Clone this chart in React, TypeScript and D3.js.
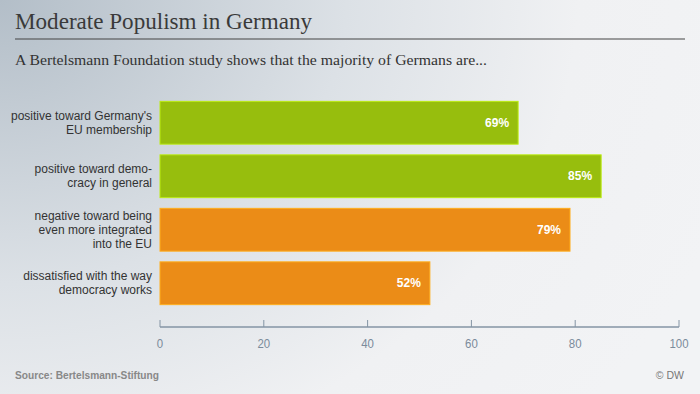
import { useEffect, useRef } from 'react'
import * as d3 from 'd3'

const categories = [
  ["positive toward Germany's", 'EU membership'],
  ['positive toward demo-', 'cracy in general'],
  ['negative toward being', 'even more integrated', 'into the EU'],
  ['dissatisfied with the way', 'democracy works'],
]
const values = [69, 85, 79, 52]
const barColors = ['#97be0d', '#97be0d', '#eb8c17', '#eb8c17']
const xTicks = [0, 20, 40, 60, 80, 100]

const W = 700
const H = 394

export default function App() {
  const svgRef = useRef<SVGSVGElement>(null)

  useEffect(() => {
    if (!svgRef.current) return
    const svg = d3.select(svgRef.current)
    svg.selectAll('*').remove()

    // background gradient
    const defs = svg.append('defs')
    const grad = defs.append('radialGradient')
      .attr('id', 'bg')
      .attr('cx', '0')
      .attr('cy', '0')
      .attr('r', '1')
      .attr('gradientUnits', 'objectBoundingBox')
      .attr('gradientTransform', 'scale(1.1,1.6)')
    grad.append('stop').attr('offset', '0%').attr('stop-color', '#b3bec8')
    grad.append('stop').attr('offset', '45%').attr('stop-color', '#dce1e6')
    grad.append('stop').attr('offset', '75%').attr('stop-color', '#f0f1f3')
    grad.append('stop').attr('offset', '100%').attr('stop-color', '#f2f3f5')

    svg.append('rect').attr('width', W).attr('height', H).attr('fill', 'url(#bg)')

    // header
    svg.append('text')
      .attr('x', 15)
      .attr('y', 29)
      .attr('textLength', 297)
      .attr('lengthAdjust', 'spacingAndGlyphs')
      .style('font-family', '"Liberation Serif", "Times New Roman", serif')
      .style('font-size', '23px')
      .style('fill', '#3a3a3a')
      .text('Moderate Populism in Germany')

    svg.append('line')
      .attr('x1', 15).attr('x2', 685)
      .attr('y1', 39).attr('y2', 39)
      .style('stroke', '#444')
      .style('stroke-width', 1.2)

    svg.append('text')
      .attr('x', 15)
      .attr('y', 65)
      .attr('textLength', 472)
      .attr('lengthAdjust', 'spacingAndGlyphs')
      .style('font-family', '"Liberation Serif", "Times New Roman", serif')
      .style('font-size', '15px')
      .style('fill', '#333')
      .text('A Bertelsmann Foundation study shows that the majority of Germans are...')

    const x = d3.scaleLinear().domain([0, 100]).range([160, 679])
    const y = d3.scaleBand<number>()
      .domain(d3.range(values.length))
      .range([96, 310])
      .paddingInner(0.2)
      .paddingOuter(0.1)

    // bars
    svg.append('g')
      .selectAll('rect')
      .data(values)
      .enter()
      .append('rect')
      .attr('x', x(0))
      .attr('y', (d, i) => y(i)!)
      .attr('width', d => x(d) - x(0))
      .attr('height', y.bandwidth())
      .style('fill', (d, i) => barColors[i])
      .style('stroke', (d, i) => d3.color(barColors[i])!.brighter(0.6).toString())
      .style('stroke-width', 1)

    // value labels
    svg.append('g')
      .selectAll('text')
      .data(values)
      .enter()
      .append('text')
      .attr('x', d => x(d) - 9)
      .attr('y', (d, i) => y(i)! + y.bandwidth() / 2 + 4)
      .style('text-anchor', 'end')
      .style('font-family', '"Liberation Sans", Arial, sans-serif')
      .style('font-size', '12px')
      .style('font-weight', '700')
      .style('fill', '#fff')
      .text(d => `${d}%`)

    // category labels
    const labels = svg.append('g')
      .selectAll('text')
      .data(categories)
      .enter()
      .append('text')
      .attr('y', (d, i) => y(i)! + y.bandwidth() / 2 - (d.length - 1) * 7 + 4)
      .style('text-anchor', 'end')
      .style('font-family', '"Liberation Sans", Arial, sans-serif')
      .style('font-size', '12px')
      .style('fill', '#333')
    labels.each(function(d) {
      const t = d3.select(this)
      d.forEach((line, j) => {
        t.append('tspan').attr('x', 152).attr('dy', j === 0 ? 0 : 14).text(line)
      })
    })

    // x axis
    const axisY = 327
    const axis = svg.append('g')
    axis.append('line')
      .attr('x1', x(0)).attr('x2', x(100))
      .attr('y1', axisY).attr('y2', axisY)
      .style('stroke', '#8494a4')
      .style('stroke-width', 1.5)
    axis.selectAll('.tick')
      .data(xTicks)
      .enter()
      .append('line')
      .attr('x1', d => x(d)).attr('x2', d => x(d))
      .attr('y1', axisY - 7).attr('y2', axisY)
      .style('stroke', '#8494a4')
      .style('stroke-width', 1)
    axis.selectAll('.lbl')
      .data(xTicks)
      .enter()
      .append('text')
      .attr('transform', d => `translate(${x(d)},${axisY + 21}) scale(0.88,1)`)
      .style('text-anchor', 'middle')
      .style('font-family', '"Liberation Sans", Arial, sans-serif')
      .style('font-size', '13px')
      .style('fill', '#7b8b9b')
      .text(d => d)

    // footer
    svg.append('text')
      .attr('x', 15)
      .attr('y', 379)
      .attr('textLength', 144)
      .attr('lengthAdjust', 'spacingAndGlyphs')
      .style('font-family', '"Liberation Sans", Arial, sans-serif')
      .style('font-size', '10.5px')
      .style('font-weight', '700')
      .style('fill', '#888')
      .text('Source: Bertelsmann-Stiftung')

    svg.append('text')
      .attr('x', 684)
      .attr('y', 379)
      .style('text-anchor', 'end')
      .style('font-family', '"Liberation Sans", Arial, sans-serif')
      .style('font-size', '10.5px')
      .style('fill', '#777')
      .text('© DW')
  }, [])

  return (
    <svg
      ref={svgRef}
      width={W}
      height={H}
      style={{ position: 'absolute', left: 0, top: 0, display: 'block' }}
    />
  )
}
